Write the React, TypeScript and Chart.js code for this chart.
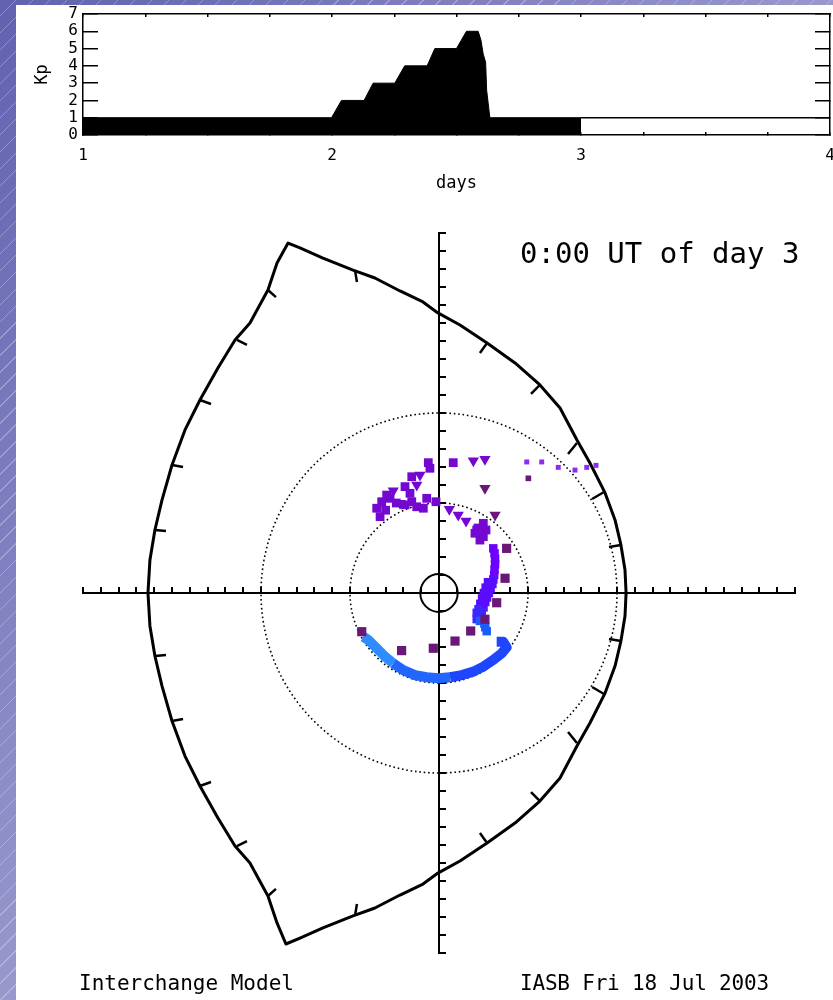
import React, { useEffect, useRef } from 'react';
import { Chart, registerables } from 'chart.js';

Chart.register(...registerables);

// ---------- Kp panel data ----------
const kpDays = [1, 1.998, 2.038, 2.129, 2.165, 2.252, 2.292, 2.382, 2.413, 2.5, 2.54, 2.587, 2.598, 2.607, 2.617, 2.621, 2.634, 3];
const kpValues = [1, 1, 2, 2, 3, 3, 4, 4, 5, 5, 6, 6, 5.5, 4.7, 4.2, 2.6, 1, 1];
const kpFutureDays = [3, 4];
const kpFutureValues = [1, 1];
const dayTickLabels = [1, 2, 3, 4];

// ---------- equatorial plane data (Earth radii) ----------
const boundaryX = [
  -16.35, -16.24, -15.96, -15.56, -15.0, -14.27, -13.43, -12.42, -11.46, -10.62, -9.61, -9.1, -8.48,
  -7.81, -6.52, -4.83, -3.6, -2.19, -0.9, -0.06, 1.18, 2.7, 4.27, 5.67, 6.8, 7.75, 8.48, 9.33, 9.89, 10.22, 10.45, 10.51,
  10.45, 10.22, 9.89, 9.33, 8.48, 7.75, 6.8, 5.67, 4.27, 2.7, 1.18, -0.06, -0.9, -2.19, -3.6, -4.83, -6.52, -7.81, -8.6,
  -9.1, -9.61, -10.62, -11.46, -12.42, -13.43, -14.27, -15.0, -15.56, -15.96, -16.24, -16.35,
];
const boundaryY = [
  0, 1.83, 3.5, 5.17, 7.11, 9.06, 10.72, 12.5, 14.06, 15.0, 16.83, 18.33, 19.44,
  19.17, 18.61, 17.94, 17.5, 16.78, 16.17, 15.56, 14.89, 13.89, 12.78, 11.56, 10.28, 8.5, 7.22, 5.56, 4.06, 2.67, 1.28, 0,
  -1.28, -2.67, -4.06, -5.56, -7.22, -8.5, -10.28, -11.56, -12.78, -13.89, -14.89, -15.56, -16.17, -16.78, -17.5, -17.94, -18.61, -19.17, -19.5,
  -18.33, -16.83, -15.0, -14.06, -12.5, -10.72, -9.06, -7.11, -5.17, -3.5, -1.83, 0,
];
// boundary hour ticks: start (on boundary) -> end (inward)
const tickStartX = [-9.61, -11.35, -13.43, -15.0, -15.96, -4.72, 2.7, 5.67, 7.75, 9.27, 10.22, -9.61, -11.35, -13.43, -15.0, -15.96, -4.72, 2.7, 5.67, 7.75, 9.27, 10.22];
const tickStartY = [16.83, 14.06, 10.72, 7.11, 3.5, 17.94, 13.89, 11.56, 8.33, 5.61, 2.67, -16.83, -14.06, -10.72, -7.11, -3.5, -17.94, -13.89, -11.56, -8.33, -5.61, -2.67];
const tickEndX = [-9.16, -10.79, -12.81, -14.38, -15.34, -4.61, 2.3, 5.17, 7.25, 8.6, 9.55, -9.16, -10.79, -12.81, -14.38, -15.34, -4.61, 2.3, 5.17, 7.25, 8.6, 9.55];
const tickEndY = [16.44, 13.78, 10.5, 7.0, 3.44, 17.28, 13.33, 11.06, 7.72, 5.22, 2.56, -16.44, -13.78, -10.5, -7.0, -3.44, -17.28, -13.33, -11.06, -7.72, -5.22, -2.56];

const guideRadii = [5, 10];
const earthRadius = 1.05;

const darkSquareX = [3.8, 3.71, 3.24, 2.58, 1.78, 0.9, -0.32, -2.1, -4.34];
const darkSquareY = [2.48, 0.82, -0.54, -1.46, -2.11, -2.67, -3.07, -3.2, -2.15];
const darkSmallX = [5.02];
const darkSmallY = [6.37];
const darkTriX = [2.58, 3.15];
const darkTriY = [5.82, 4.33];

const violetTriX = [1.93, 2.58, -1.25, -2.57, -1.07, -2.19, 0.58, 1.08, 1.52];
const violetTriY = [7.35, 7.43, 6.0, 5.68, 6.56, 4.98, 4.65, 4.33, 4.0];
const violetX = [-0.6, 0.8, -0.51, -1.53, -1.91, -2.94, -3.22, -3.5, -3.31, -2.75, -1.63, -1.53, -1.25, -0.88, -0.69, -0.17, 2.49, 2.12, 2.49, 2.3, 2.02, 2.19, 2.64, -2.4, -1.9, -3.0];
const violetY = [7.24, 7.24, 6.93, 6.46, 5.91, 5.44, 5.07, 4.71, 4.24, 5.26, 5.54, 5.07, 4.79, 4.71, 5.26, 5.07, 3.87, 3.5, 3.13, 2.94, 3.32, 3.61, 3.5, 5.0, 4.9, 4.6];
const violetSmallX = [4.93, 5.77, 6.7, 7.64, 8.3, 8.82];
const violetSmallY = [7.28, 7.28, 6.98, 6.83, 6.98, 7.09];

const bandTopX = [3.05, 3.12, 3.15, 3.15, 3.12, 3.1];
const bandTopY = [2.48, 2.2, 1.9, 1.6, 1.3, 1.0];
const bandMidX = [3.05, 3.0, 2.9, 2.8, 2.7, 2.6, 2.5, 2.75, 2.62, 2.52, 2.42, 2.32];
const bandMidY = [0.75, 0.5, 0.25, 0, -0.25, -0.5, -0.8, 0.6, 0.3, 0, -0.3, -0.6];
const bandLowX = [2.22, 2.12, 2.4, 2.3, 2.12];
const bandLowY = [-0.9, -1.1, -1.05, -1.25, -1.45];
const bandTipX = [2.3, 2.55, 2.6, 2.68];
const bandTipY = [-1.55, -1.7, -1.9, -2.12];

const arcLeftX = [-4.25, -3.97, -3.5, -3.03, -2.57];
const arcLeftY = [-2.43, -2.61, -3.07, -3.54, -3.91];
const arcMidX = [-2.57, -2.01, -1.35, -0.69, -0.04, 0.62];
const arcMidY = [-3.91, -4.28, -4.56, -4.68, -4.74, -4.68];
const arcRightX = [0.62, 1.28, 1.93, 2.49, 3.05, 3.52, 3.8, 3.61, 3.24];
const arcRightY = [-4.68, -4.56, -4.37, -4.09, -3.72, -3.35, -3.02, -2.71, -2.71];

const MONO = '"DejaVu Sans Mono", monospace';

function pts(xs: number[], ys: number[]) {
  return xs.map((x, i) => ({ x, y: ys[i] }));
}

const noPad = (s: any) => {
  s.paddingTop = 0;
  s.paddingBottom = 0;
  s.paddingLeft = 0;
  s.paddingRight = 0;
};

const ringPlugin = {
  id: 'guideRings',
  beforeDatasetsDraw(chart: any) {
    const { ctx } = chart;
    const xs = chart.scales.x;
    const ys = chart.scales.y;
    const cx = xs.getPixelForValue(0);
    const cy = ys.getPixelForValue(0);
    ctx.save();
    ctx.strokeStyle = '#000';
    guideRadii.forEach((r) => {
      const rx = xs.getPixelForValue(r) - cx;
      const ry = cy - ys.getPixelForValue(r);
      ctx.beginPath();
      ctx.setLineDash([1.6, 2.8]);
      ctx.lineWidth = 1.6;
      ctx.ellipse(cx, cy, rx, ry, 0, 0, Math.PI * 2);
      ctx.stroke();
    });
    const erx = xs.getPixelForValue(earthRadius) - cx;
    const ery = cy - ys.getPixelForValue(earthRadius);
    ctx.beginPath();
    ctx.setLineDash([]);
    ctx.lineWidth = 2;
    ctx.ellipse(cx, cy, erx, ery, 0, 0, Math.PI * 2);
    ctx.stroke();
    ctx.restore();
  },
};

export default function App() {
  const kpRef = useRef<HTMLCanvasElement>(null);
  const mainRef = useRef<HTMLCanvasElement>(null);

  useEffect(() => {
    const kpAxisTick = { family: MONO, size: 16 };
    const kpChart = new Chart(kpRef.current as HTMLCanvasElement, {
      type: 'line',
      data: {
        datasets: [
          {
            data: pts(kpDays, kpValues),
            borderColor: '#000',
            backgroundColor: '#000',
            borderWidth: 1,
            fill: 'origin',
            pointRadius: 0,
            tension: 0,
          },
          {
            data: pts(kpFutureDays, kpFutureValues),
            borderColor: '#000',
            borderWidth: 1.5,
            fill: false,
            pointRadius: 0,
          },
        ],
      },
      options: {
        animation: false,
        responsive: false,
        devicePixelRatio: 1,
        layout: { padding: { left: 0, right: 3, top: 9, bottom: 0 } },
        plugins: { legend: { display: false }, tooltip: { enabled: false } },
        scales: {
          x: {
            type: 'linear',
            position: 'bottom',
            min: 1,
            max: 4,
            ticks: {
              stepSize: 0.25,
              autoSkip: false,
              maxRotation: 0,
              padding: 14,
              color: '#000',
              font: kpAxisTick,
              callback: (v: any) => (dayTickLabels.includes(Number(v)) ? String(v) : ''),
            },
            grid: { drawOnChartArea: false, tickLength: -3, color: '#000', lineWidth: 1.5 },
            border: { color: '#000', width: 1.5 },
            title: { display: true, text: 'days', color: '#000', font: { family: MONO, size: 17 }, padding: { top: 0, bottom: 11 } },
            afterFit: (s: any) => { s.height = 70; noPad(s); },
          },
          x2: {
            type: 'linear',
            axis: 'x',
            position: 'top',
            min: 1,
            max: 4,
            ticks: { display: false, stepSize: 0.25, autoSkip: false },
            grid: { drawOnChartArea: false, tickLength: -3, color: '#000', lineWidth: 1.5 },
            border: { color: '#000', width: 1.5 },
            afterFit: (s: any) => { s.height = 0; noPad(s); },
          },
          y: {
            type: 'linear',
            position: 'left',
            min: 0,
            max: 7,
            ticks: { stepSize: 1, autoSkip: false, padding: 20, color: '#000', font: kpAxisTick },
            grid: { drawOnChartArea: false, tickLength: -15, color: '#000', lineWidth: 1.5 },
            border: { color: '#000', width: 1.5 },
            title: { display: true, text: 'Kp', color: '#000', font: { family: MONO, size: 17 }, padding: { top: 16, bottom: 0 } },
            afterFit: (s: any) => { s.width = 67; noPad(s); },
          },
          y2: {
            type: 'linear',
            axis: 'y',
            position: 'right',
            min: 0,
            max: 7,
            ticks: { display: false, stepSize: 1, autoSkip: false },
            grid: { drawOnChartArea: false, tickLength: -15, color: '#000', lineWidth: 1.5 },
            border: { color: '#000', width: 1.5 },
            afterFit: (s: any) => { s.width = 0; noPad(s); },
          },
        },
      } as any,
    });

    const sq = (xs: number[], ys: number[], color: string, radius: number, style = 'rect', rotation = 0) => ({
      data: pts(xs, ys),
      backgroundColor: color,
      borderColor: color,
      pointStyle: style,
      pointRadius: radius,
      pointBorderWidth: 0,
      pointRotation: rotation,
      showLine: false,
    });
    const arc = (xs: number[], ys: number[], color: string) => ({
      data: pts(xs, ys),
      borderColor: color,
      backgroundColor: color,
      borderWidth: 10,
      pointRadius: 0,
      showLine: true,
      borderJoinStyle: 'round',
      borderCapStyle: 'butt',
    });
    const tickSets = tickStartX.map((x, i) => ({
      data: [
        { x, y: tickStartY[i] },
        { x: tickEndX[i], y: tickEndY[i] },
      ],
      borderColor: '#000',
      borderWidth: 2.5,
      pointRadius: 0,
      showLine: true,
    }));

    const mainChart = new Chart(mainRef.current as HTMLCanvasElement, {
      type: 'scatter',
      data: {
        datasets: [
          sq(darkSquareX, darkSquareY, '#6a1878', 6.5),
          sq(darkSmallX, darkSmallY, '#6a1878', 4),
          sq(darkTriX, darkTriY, '#6a1878', 6.5, 'triangle', 180),
          sq(violetTriX, violetTriY, '#7408d0', 6.5, 'triangle', 180),
          sq(violetX, violetY, '#7408d0', 6.2),
          sq(violetSmallX, violetSmallY, '#8a2cf2', 3.5),
          sq(bandTipX, bandTipY, '#1a5cff', 6),
          sq(bandLowX, bandLowY, '#3e26ff', 6),
          sq(bandMidX, bandMidY, '#5a0cff', 6),
          sq(bandTopX, bandTopY, '#6c00ff', 6),
          arc(arcRightX, arcRightY, '#1f46ff'),
          arc(arcMidX, arcMidY, '#2066ff'),
          arc(arcLeftX, arcLeftY, '#2e8cff'),
          {
            data: pts(boundaryX, boundaryY),
            borderColor: '#000',
            borderWidth: 3,
            pointRadius: 0,
            showLine: true,
            borderJoinStyle: 'round',
          },
          ...tickSets,
        ],
      },
      options: {
        animation: false,
        responsive: false,
        devicePixelRatio: 1,
        layout: { padding: { left: 67, right: 38, top: 28, bottom: 47 } },
        plugins: { legend: { display: false }, tooltip: { enabled: false } },
        scales: {
          x: {
            type: 'linear',
            min: -20,
            max: 20,
            position: { y: 0 },
            ticks: { display: false, stepSize: 1 },
            grid: { drawOnChartArea: false, tickLength: -7, color: '#000', lineWidth: 2 },
            border: { color: '#000', width: 2 },
            afterFit: (s: any) => { s.height = 0; noPad(s); },
          },
          y: {
            type: 'linear',
            min: -20,
            max: 20,
            position: { x: 0 },
            ticks: { display: false, stepSize: 1 },
            grid: { drawOnChartArea: false, tickLength: -8, color: '#000', lineWidth: 2 },
            border: { color: '#000', width: 2 },
            afterFit: (s: any) => { s.width = 0; noPad(s); },
          },
        },
      } as any,
      plugins: [ringPlugin],
    });

    return () => {
      kpChart.destroy();
      mainChart.destroy();
    };
  }, []);

  const text = (extra: any) => ({
    position: 'absolute' as const,
    fontFamily: MONO,
    color: '#000',
    whiteSpace: 'nowrap' as const,
    ...extra,
  });

  return (
    <div
      style={{
        position: 'absolute',
        left: 0,
        top: 0,
        width: 833,
        height: 1000,
        overflow: 'hidden',
        background:
          'repeating-linear-gradient(135deg, rgba(255,255,255,0) 0px, rgba(255,255,255,0) 11px, rgba(255,255,255,0.28) 11px, rgba(255,255,255,0.28) 12px), linear-gradient(to bottom right, #6161b0 0%, #9898cd 50%, #aeaeda 100%)',
      }}
    >
      <div style={{ position: 'absolute', left: 16, top: 5, width: 817, height: 995, background: '#fff' }} />
      <canvas ref={kpRef} width={817} height={200} style={{ position: 'absolute', left: 16, top: 5, width: 817, height: 200 }} />
      <canvas ref={mainRef} width={817} height={795} style={{ position: 'absolute', left: 16, top: 205, width: 817, height: 795 }} />
      <div style={text({ left: 520, top: 239, fontSize: 29, lineHeight: '29px' })}>0:00 UT of day 3</div>
      <div style={text({ left: 79, top: 973, fontSize: 21, lineHeight: '21px' })}>Interchange Model</div>
      <div style={text({ left: 520, top: 973, fontSize: 21, lineHeight: '21px', letterSpacing: '-0.2px' })}>IASB Fri 18 Jul 2003</div>
    </div>
  );
}
